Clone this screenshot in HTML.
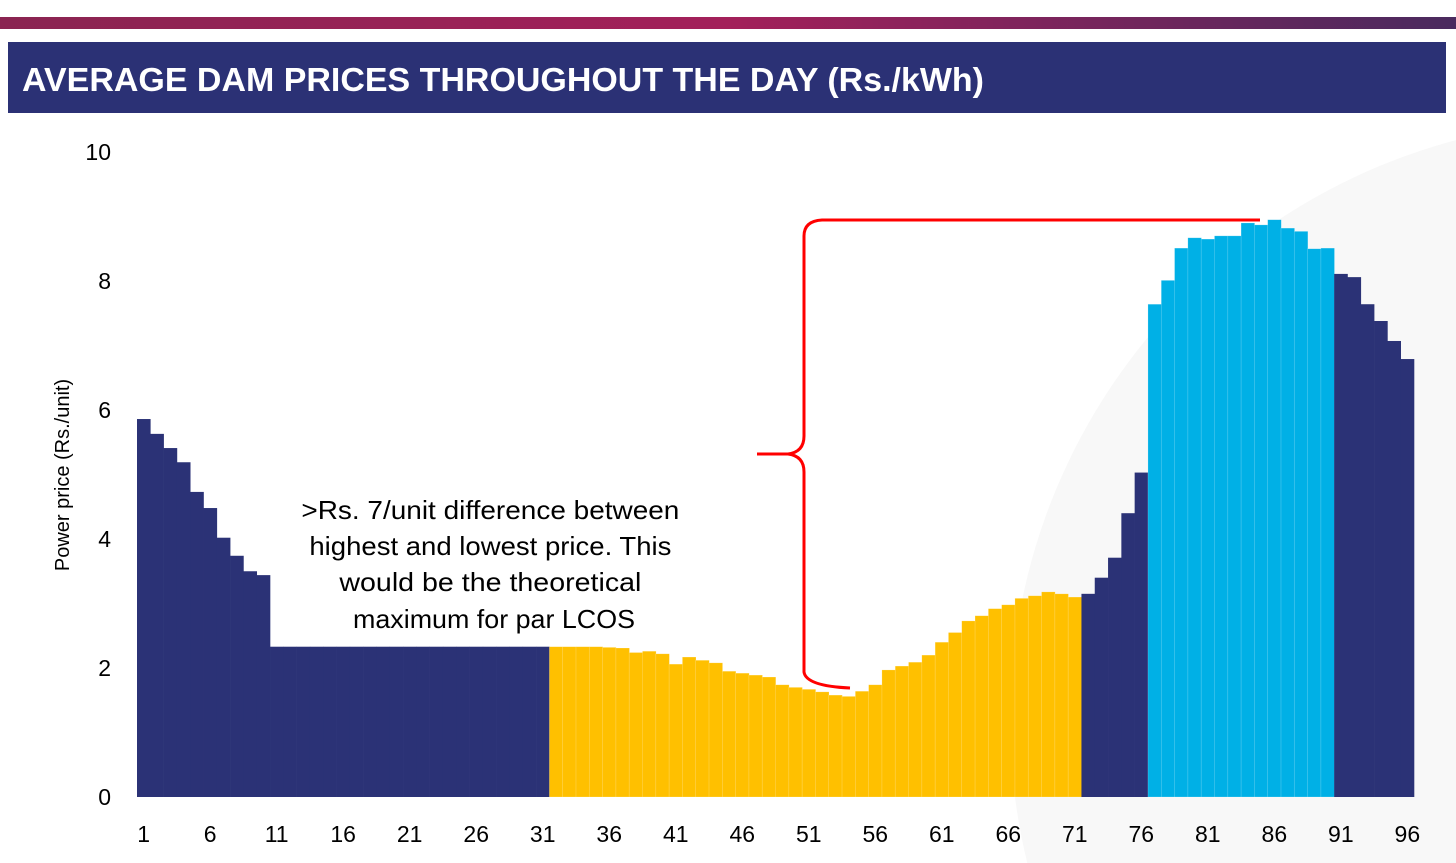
<!DOCTYPE html>
<html><head><meta charset="utf-8">
<style>
html,body{margin:0;background:#fff;width:1456px;height:863px;overflow:hidden;font-family:"Liberation Sans",sans-serif}
svg{display:block}
</style></head>
<body>
<svg id="chart" width="1456" height="863">
<defs>
<linearGradient id="tg" x1="0" x2="1"><stop offset="0" stop-color="#8a2451"/><stop offset="0.5" stop-color="#a3205a"/><stop offset="1" stop-color="#4a2a5e"/></linearGradient>
<clipPath id="cc"><rect x="0" y="113" width="1456" height="750"/></clipPath>
</defs>
<circle cx="1610" cy="720" r="600" fill="#f8f8f8" clip-path="url(#cc)"/>
<rect x="0" y="17" width="1456" height="12" fill="url(#tg)"/>
<rect x="8" y="42" width="1438" height="71" fill="#2b3175"/>
<text x="22" y="91" fill="#fff" font-size="33" font-weight="bold" textLength="962" lengthAdjust="spacingAndGlyphs">AVERAGE DAM PRICES THROUGHOUT THE DAY (Rs./kWh)</text>
<text transform="translate(69,475) rotate(-90)" text-anchor="middle" font-size="20" fill="#000">Power price (Rs./unit)</text>
<g id="yticks"></g><g id="xticks"></g><g id="bars"></g>
<g fill="none" stroke="#ff0000" stroke-width="3">
<path d="M1260,220 L822,220 Q804,221 804,236 L804,436 Q804,452 788,454 L757,454 M788,454 Q804,456 804,472 L804,672 Q806,686 850,688"/>
</g>
<text font-size="26" fill="#000" text-anchor="middle">
<tspan x="494" y="519" textLength="378" lengthAdjust="spacingAndGlyphs">&gt;Rs. 7/unit difference between</tspan>
<tspan x="494" y="555" textLength="362" lengthAdjust="spacingAndGlyphs">highest and lowest price. This</tspan>
<tspan x="494" y="591" textLength="302" lengthAdjust="spacingAndGlyphs">would be the theoretical</tspan>
<tspan x="494" y="628" textLength="282" lengthAdjust="spacingAndGlyphs">maximum for par LCOS</tspan>
</text>
</svg>
<script>
const blocks = Array.from({length:96},(_,i)=>i+1);
const prices = [5.86,5.63,5.41,5.19,4.73,4.48,4.02,3.74,3.50,3.44,
2.33,2.33,2.33,2.33,2.33,2.33,2.33,2.33,2.33,2.33,2.33,2.33,2.33,2.33,2.33,2.33,2.33,2.33,2.33,2.33,2.33,
2.33,2.33,2.33,2.33,2.32,2.31,2.24,2.26,2.22,2.06,2.17,2.12,2.08,1.95,1.92,1.89,1.86,1.74,1.70,1.67,1.63,1.58,1.56,1.64,1.74,1.97,2.03,2.09,2.20,2.40,2.55,2.73,2.81,2.92,2.98,3.08,3.12,3.18,3.15,3.10,
3.15,3.40,3.71,4.40,5.03,
7.64,8.01,8.51,8.67,8.65,8.70,8.70,8.90,8.87,8.95,8.82,8.77,8.50,8.51,
8.11,8.06,7.64,7.38,7.07,6.79];
const period = blocks.map(b => b<=31?'base':b<=71?'solar':b<=76?'base':b<=90?'peak':'base');
const yTicks = [0,2,4,6,8,10];
const xTicks = [1,6,11,16,21,26,31,36,41,46,51,56,61,66,71,76,81,86,91,96];
const colors = {base:'#2b3276',solar:'#ffc000',peak:'#00b0e6'};
const X0=137, X1=1414, Y0=797, Y10=152;
const bw=(X1-X0)/blocks.length;
const xs = b => X0 + (b-1)*bw;
const ys = v => Y0 - v*(Y0-Y10)/10;
const NS='http://www.w3.org/2000/svg';
const gb=document.getElementById('bars');
blocks.forEach((b,i)=>{
  const r=document.createElementNS(NS,'rect');
  r.setAttribute('x',xs(b)); r.setAttribute('width',bw+0.3);
  r.setAttribute('y',ys(prices[i])); r.setAttribute('height',Y0-ys(prices[i]));
  r.setAttribute('fill',colors[period[i]]);
  if(period[i]!=='base'){r.setAttribute('stroke','rgba(255,255,255,0.3)');r.setAttribute('stroke-width','0.6');}
  
  
  gb.appendChild(r);
});
const gy=document.getElementById('yticks');
yTicks.forEach(t=>{
  const e=document.createElementNS(NS,'text');
  e.setAttribute('x',111); e.setAttribute('y',ys(t)+8);
  e.setAttribute('text-anchor','end'); e.setAttribute('font-size','23');
  e.textContent=t;
  
  
  gy.appendChild(e);
});
const gx=document.getElementById('xticks');
xTicks.forEach(t=>{
  const e=document.createElementNS(NS,'text');
  e.setAttribute('x',xs(t)+bw/2); e.setAttribute('y',842);
  e.setAttribute('text-anchor','middle'); e.setAttribute('font-size','23');
  e.textContent=t;
  
  
  gx.appendChild(e);
});
</script>
</body></html>
